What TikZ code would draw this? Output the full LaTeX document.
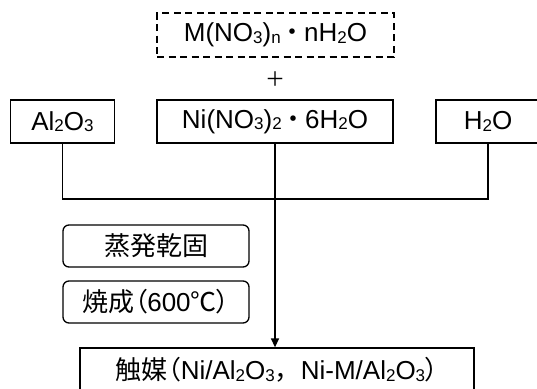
\documentclass[tikz,border=0pt]{standalone}
\usepackage{fontspec}
\setmainfont{Liberation Sans}
\newfontfamily\cjk{Noto Sans CJK JP}
\newfontfamily\cjkp[RawFeature=+palt]{Noto Sans CJK JP}
\usetikzlibrary{arrows.meta}
\newcommand\sbs[1]{\raisebox{-0.06em}{\fontsize{17}{17}\selectfont #1}}
\newcommand\mdot{\hspace{0.2em}{\cjkp ・}\hspace{0.2em}}
\begin{document}
\begin{tikzpicture}[x=1pt,y=-1pt,
  every node/.style={font=\fontsize{26}{30}\selectfont, inner sep=0pt},
  box/.style={draw, line width=1.3pt, minimum height=43},
  dbox/.style={box, dash pattern=on 7pt off 4.5pt},
  rbox/.style={box, rounded corners=6pt, minimum height=42, minimum width=186},
  conn/.style={line width=1.4pt}]
\useasboundingbox (0,0) rectangle (537,388);
\clip (0,0) rectangle (537,388);
\node[dbox, minimum width=237, minimum height=44] (m) at (275.5,35) {M(NO\sbs{3})\sbs{n}\mdot nH\sbs{2}O};
\node (plus) at (275,79) {\cjk\fontsize{20}{20}\selectfont ＋};
\node[box, minimum width=104] (al) at (62.5,121.5) {Al\sbs{2}O\sbs{3}};
\node[box, minimum width=236] (ni) at (275,121.5) {Ni(NO\sbs{3})\sbs{2}\mdot 6H\sbs{2}O};
\node[box, minimum width=104] (h2o) at (488,121.5) {H\sbs{2}O};
\coordinate (j) at (275,199);
\node[rbox] (dry) at (156,246) {\cjk 蒸発乾固};
\node[rbox] (calc) at (156,302) {{\cjk 焼成}{\cjkp （}600{\cjk ℃}{\cjkp ）}};
\node[box, minimum width=394, minimum height=44] (cat) at (277,370) {{\cjk 触媒}{\cjkp （}Ni/Al\sbs{2}O\sbs{3}{\cjk ，}Ni-M/Al\sbs{2}O\sbs{3}{\cjkp ）}};
\draw[conn] (al.south) |- (j) -| (h2o.south);
\draw[conn, -{Triangle[length=9pt,width=8pt]}] (ni.south) -- (ni.south |- cat.north);
\end{tikzpicture}
\end{document}
